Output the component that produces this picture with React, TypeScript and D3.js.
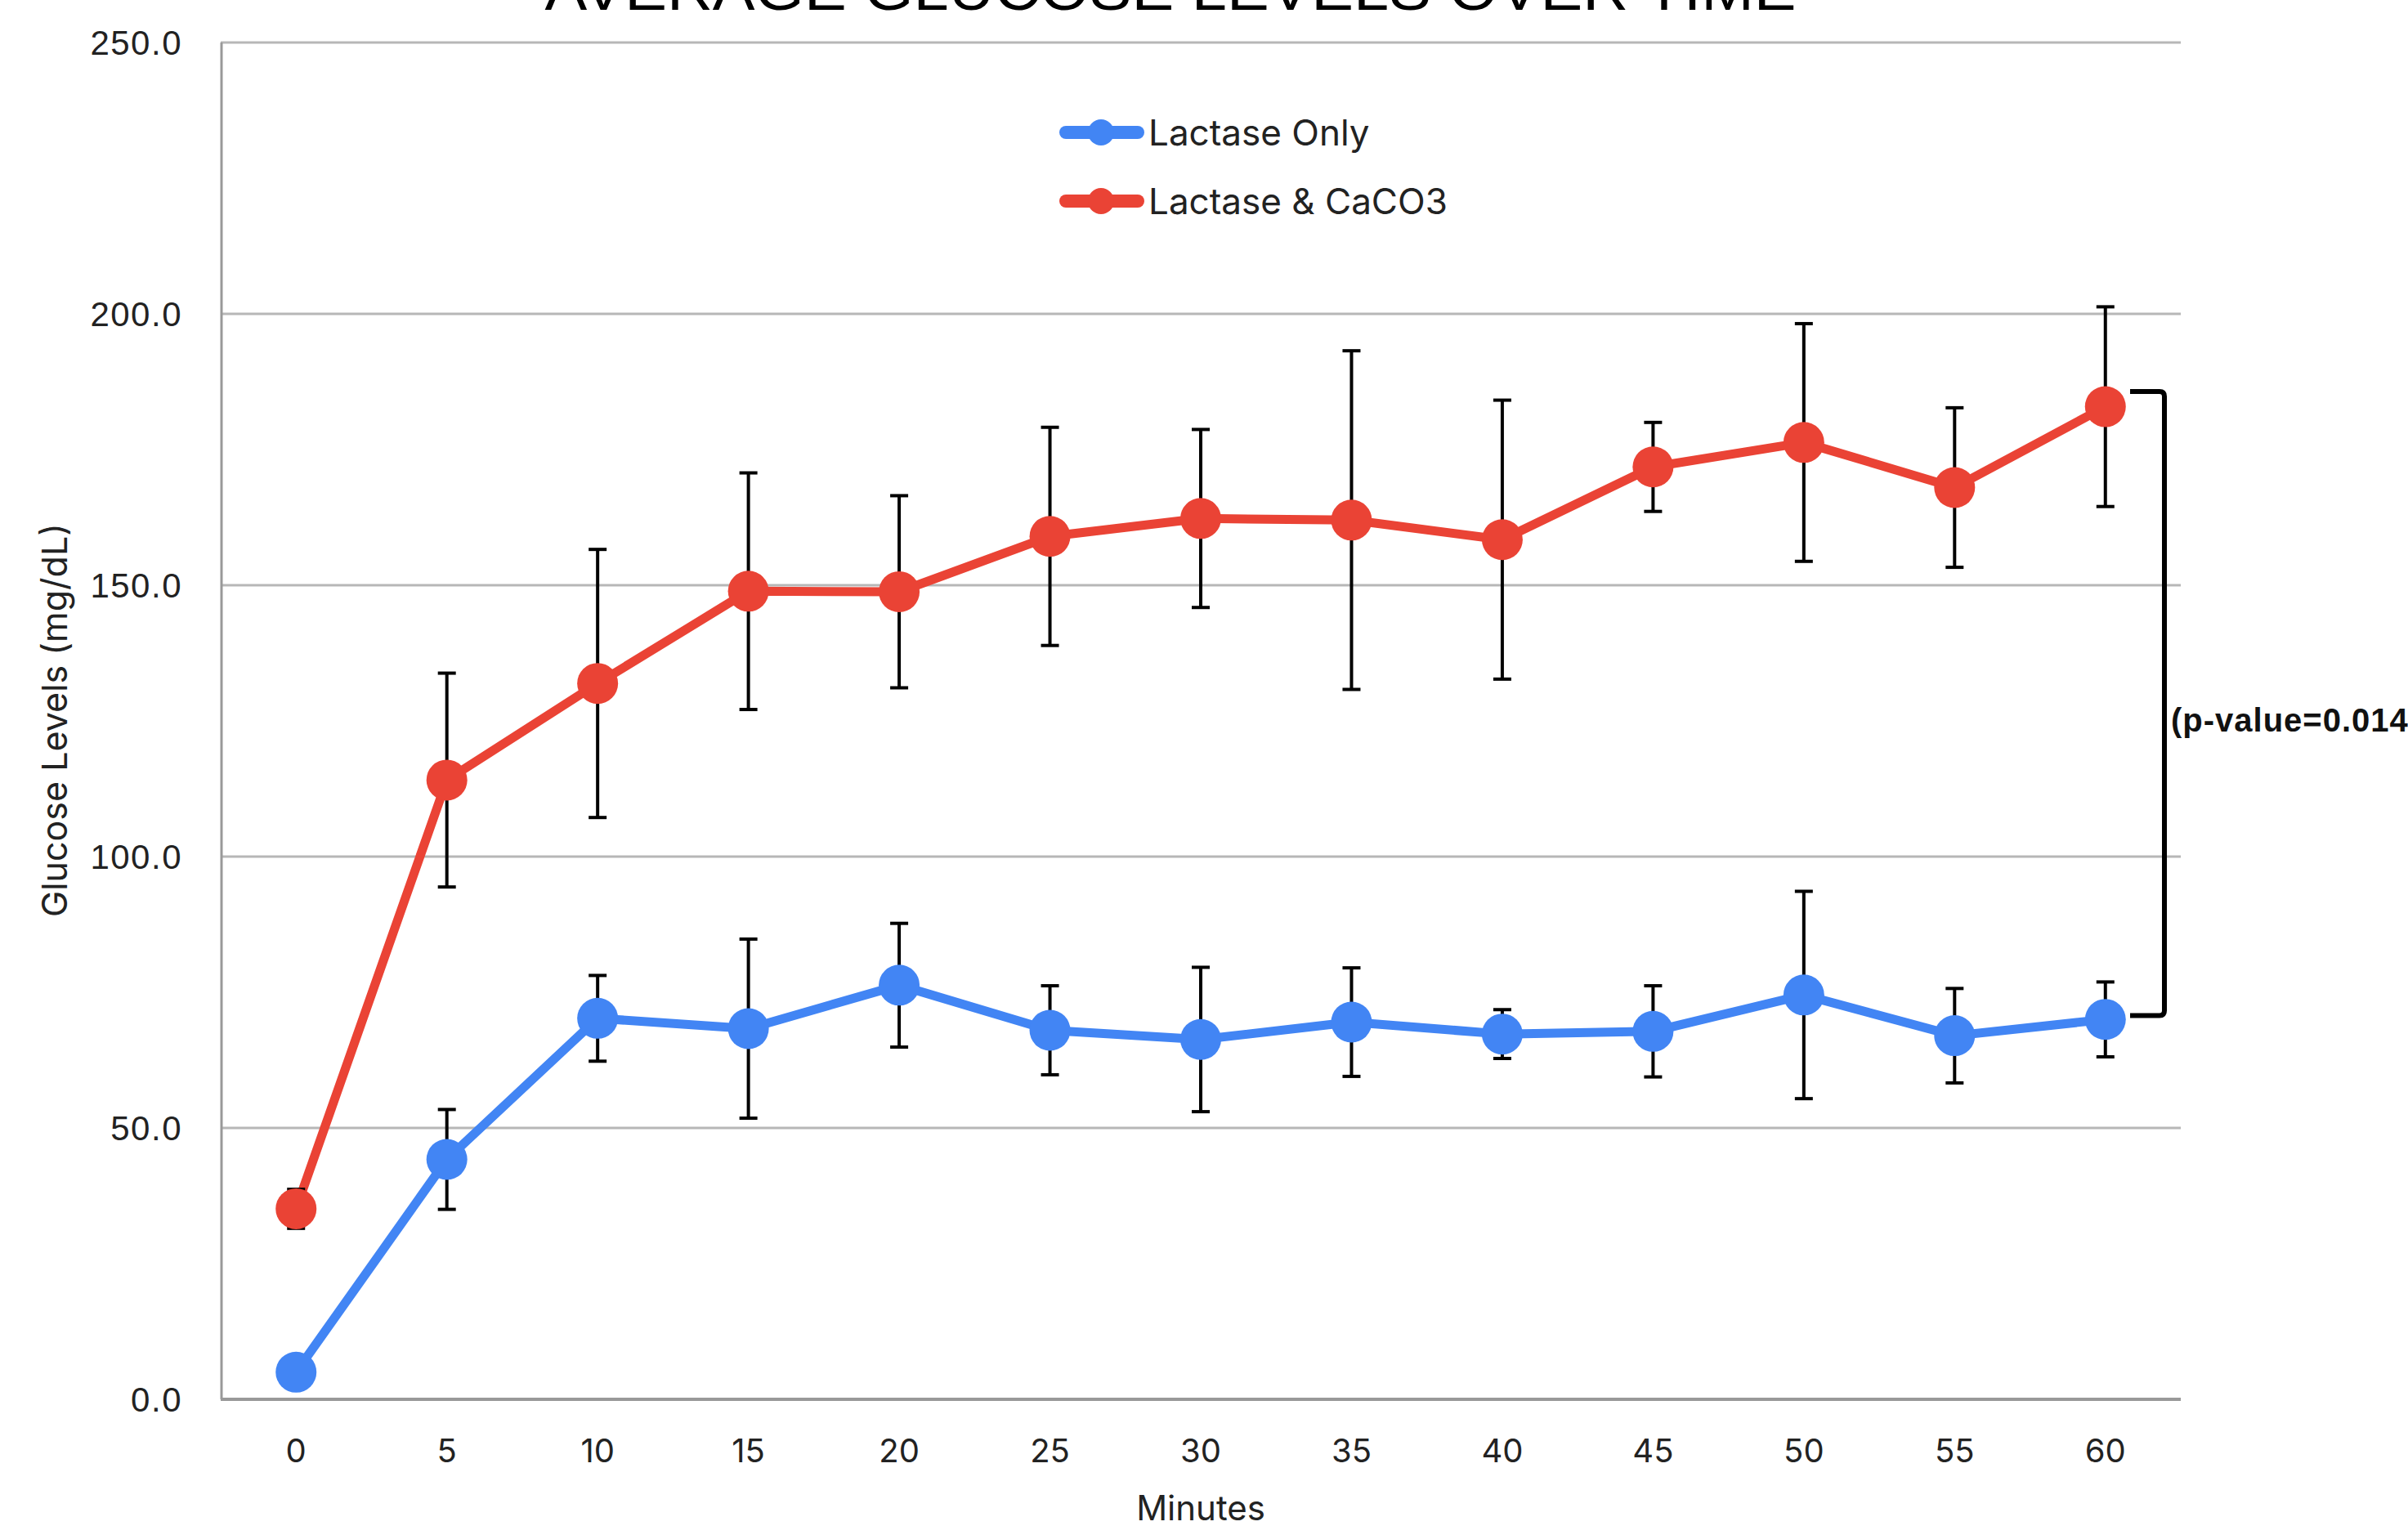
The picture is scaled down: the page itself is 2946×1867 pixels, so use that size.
import React from "react";
import * as d3 from "d3";

const minutes = [0, 5, 10, 15, 20, 25, 30, 35, 40, 45, 50, 55, 60];
const lactaseOnly = [5.0, 44.2, 70.2, 68.3, 76.3, 68.0, 66.3, 69.5, 67.3, 67.8, 74.5, 67.0, 70.0];
const lactaseOnlyErr = [1.5, 9.2, 7.9, 16.5, 11.4, 8.2, 13.3, 10.0, 4.5, 8.4, 19.1, 8.7, 6.9];
const lactaseCaCO3 = [35.1, 114.1, 131.9, 148.9, 148.8, 159.0, 162.3, 162.0, 158.4, 171.8, 176.3, 168.0, 182.9];
const lactaseCaCO3Err = [3.6, 19.7, 24.7, 21.8, 17.7, 20.1, 16.4, 31.2, 25.7, 8.2, 21.9, 14.7, 18.4];
const yTicks = [0, 50, 100, 150, 200, 250];
const seriesNames = ["Lactase Only", "Lactase & CaCO3"];
const titleText = "AVERAGE GLUCOSE LEVELS OVER TIME";
const xTitle = "Minutes";
const yTitle = "Glucose Levels (mg/dL)";
const pValueText = "(p-value=0.014)";
const bracketRange = [70.7, 185.7];

const W = 2946;
const H = 1867;
const BLUE = "#4285F4";
const RED = "#EA4335";

export default function App() {
  const x = d3.scalePoint<number>().domain(minutes).range([270, 2668]).padding(0.5);
  const y = d3.scaleLinear().domain([0, 250]).range([1712, 52]);
  const fmt = d3.format(".1f");
  const line = d3
    .line<number>()
    .x((_, i) => x(minutes[i]) as number)
    .y((d) => y(d));

  const series = [
    { name: seriesNames[0], vals: lactaseOnly, errs: lactaseOnlyErr, color: BLUE },
    { name: seriesNames[1], vals: lactaseCaCO3, errs: lactaseCaCO3Err, color: RED },
  ];

  const bx0 = 2606;
  const bx1 = 2648;
  const bTop = y(bracketRange[1]);
  const bBot = y(bracketRange[0]);

  return (
    <svg
      width={W}
      height={H}
      style={{ position: "absolute", left: 0, top: 0, background: "#fff" }}
    >
      <rect x={0} y={0} width={W} height={H} fill="#fff" />
      {/* title (cut off at top) */}
      <text
        x={1432}
        y={12}
        textAnchor="middle"
        fontFamily="Liberation Sans, Arial, sans-serif"
        fontSize={72}
        textLength={1531}
        lengthAdjust="spacingAndGlyphs"
        fill="#000"
      >
        {titleText}
      </text>

      {/* gridlines */}
      {yTicks.map((t) => (
        <line key={t} x1={270} x2={2668} y1={y(t)} y2={y(t)} stroke="#b7b7b7" strokeWidth={3} />
      ))}
      {/* axes */}
      <line x1={271} x2={271} y1={y(250)} y2={y(0)} stroke="#999" strokeWidth={3} />
      <line x1={270} x2={2668} y1={y(0)} y2={y(0)} stroke="#999" strokeWidth={4} />

      {/* y tick labels */}
      {yTicks.map((t) => (
        <text
          key={t}
          x={223}
          y={y(t)}
          dy="0.36em"
          textAnchor="end"
          fontFamily="Liberation Sans, Arial, sans-serif"
          fontSize={42}
          letterSpacing={1.5}
          fill="#222"
        >
          {fmt(t)}
        </text>
      ))}
      {/* x tick labels */}
      {minutes.map((m) => (
        <text
          key={m}
          x={x(m)}
          y={1789}
          textAnchor="middle"
          fontFamily="Inter, sans-serif"
          fontSize={40}
          fill="#222"
        >
          {m}
        </text>
      ))}
      {/* axis titles */}
      <text x={1469} y={1860} textAnchor="middle" fontFamily="Inter, sans-serif" fontSize={42} fill="#222">
        {xTitle}
      </text>
      <text
        transform={`translate(82,881) rotate(-90)`}
        textAnchor="middle"
        fontFamily="Inter, sans-serif"
        fontSize={43}
        fill="#222"
      >
        {yTitle}
      </text>

      {/* lines */}
      {series.map((s) => (
        <path
          key={s.name}
          d={line(s.vals) || ""}
          fill="none"
          stroke={s.color}
          strokeWidth={11}
          strokeLinejoin="round"
        />
      ))}
      {/* error bars */}
      {series.map((s) =>
        s.vals.map((v, i) => {
          const cx = x(minutes[i]) as number;
          const t = y(v + s.errs[i]);
          const b = y(v - s.errs[i]);
          return (
            <g key={s.name + i} stroke="#000" strokeWidth={4}>
              <line x1={cx} x2={cx} y1={t} y2={b} />
              <line x1={cx - 11} x2={cx + 11} y1={t} y2={t} />
              <line x1={cx - 11} x2={cx + 11} y1={b} y2={b} />
            </g>
          );
        })
      )}
      {/* markers */}
      {series.map((s) =>
        s.vals.map((v, i) => (
          <circle key={s.name + "m" + i} cx={x(minutes[i])} cy={y(v)} r={25} fill={s.color} />
        ))
      )}

      {/* legend */}
      {series.map((s, i) => {
        const ly = 162 + i * 84;
        return (
          <g key={s.name + "leg"}>
            <line x1={1304} x2={1392} y1={ly} y2={ly} stroke={s.color} strokeWidth={16} strokeLinecap="round" />
            <circle cx={1347} cy={ly} r={16} fill={s.color} />
            <text x={1405} y={ly} dy="0.36em" fontFamily="Inter, sans-serif" fontSize={44} fill="#222">
              {s.name}
            </text>
          </g>
        );
      })}

      {/* significance bracket */}
      <path
        d={`M${bx0},${bTop} L${bx1 - 6},${bTop} Q${bx1},${bTop} ${bx1},${bTop + 6} L${bx1},${bBot - 6} Q${bx1},${bBot} ${bx1 - 6},${bBot} L${bx0},${bBot}`}
        fill="none"
        stroke="#000"
        strokeWidth={6}
      />
      <text
        x={2656}
        y={881}
        dy="0.36em"
        fontFamily="Liberation Sans, Arial, sans-serif"
        fontWeight="bold"
        fontSize={40}
        letterSpacing={1}
        fill="#111"
      >
        {pValueText}
      </text>
    </svg>
  );
}
